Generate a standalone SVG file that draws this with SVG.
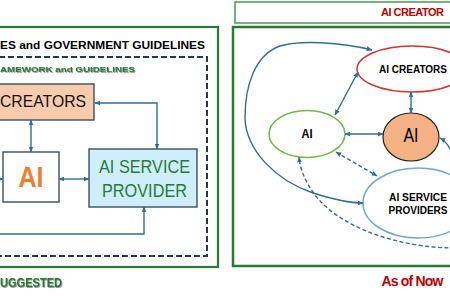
<svg xmlns="http://www.w3.org/2000/svg" width="450" height="300" viewBox="0 0 450 300">
<style>
.t{font-family:"Liberation Sans",Arial,sans-serif;}
.b{font-weight:bold;}
.con{fill:none;stroke:#2f6f94;stroke-width:1.4;}
.dash{stroke-dasharray:4 2.5;}
.box{stroke:#3c4f60;stroke-width:1.4;}
</style>
<defs>
<marker id="ah" viewBox="0 0 10 10" refX="9" refY="5" markerWidth="6" markerHeight="6" markerUnits="userSpaceOnUse" orient="auto-start-reverse">
<path d="M0,1 L10,5 L0,9 z" fill="#2f6f94"/>
</marker>
<filter id="sh" x="-30%" y="-60%" width="160%" height="220%">
<feDropShadow dx="0.8" dy="0.8" stdDeviation="0.3" flood-color="#333" flood-opacity="0.6"/>
</filter>
</defs>

<!-- LEFT PANEL -->
<g id="left-frame">
<rect x="-10" y="27" width="228" height="240" fill="none" stroke="#2a7a34" stroke-width="2.2"/>
<rect x="-10" y="57" width="217" height="199" fill="none" stroke="#1f3a4d" stroke-width="2" stroke-dasharray="6 3"/>
<text class="t b" x="0" y="49" font-size="11" textLength="205" lengthAdjust="spacingAndGlyphs" fill="#000">ES and GOVERNMENT GUIDELINES</text>
<text class="t b" x="0" y="72" font-size="8" textLength="135" lengthAdjust="spacingAndGlyphs" fill="#2a7a34" filter="url(#sh)">AMEWORK and GUIDELINES</text>
<text class="t b" x="0" y="287" font-size="12" textLength="62" lengthAdjust="spacingAndGlyphs" fill="#2a7a34" filter="url(#sh)">UGGESTED</text>
</g>

<g id="l-creators">
<rect class="box" x="-10" y="84" width="104" height="36" fill="#f8cbad"/>
<text class="t" x="0" y="107" font-size="17" textLength="86" lengthAdjust="spacingAndGlyphs" fill="#111">CREATORS</text>
</g>

<g id="l-ai">
<rect class="box" x="3" y="152" width="56" height="50" fill="#fff"/>
<text class="t b" x="31" y="187" font-size="30" text-anchor="middle" textLength="25" lengthAdjust="spacingAndGlyphs" fill="#ed7d31">AI</text>
</g>

<g id="l-provider">
<rect class="box" x="89" y="149" width="108" height="58" fill="#cdeefa"/>
<text class="t" x="144.5" y="173" font-size="19" text-anchor="middle" textLength="91" lengthAdjust="spacingAndGlyphs" fill="#2a7a34">AI SERVICE</text>
<text class="t" x="144.5" y="197" font-size="19" text-anchor="middle" textLength="85" lengthAdjust="spacingAndGlyphs" fill="#2a7a34">PROVIDER</text>
</g>

<g id="l-connectors">
<path class="con" d="M95 103 H157 V149" marker-start="url(#ah)" marker-end="url(#ah)"/>
<path class="con" d="M31 120 V152" marker-start="url(#ah)" marker-end="url(#ah)"/>
<path class="con" d="M59 179 H89" marker-start="url(#ah)" marker-end="url(#ah)"/>
<path class="con" d="M-6 179 H3" marker-end="url(#ah)"/>
<path class="con" d="M-6 234 H144 V207" marker-end="url(#ah)"/>
</g>

<!-- RIGHT PANEL -->
<g id="right-frame">
<rect x="235" y="2" width="225" height="21" fill="#fff" stroke="#4a9a50" stroke-width="1.5"/>
<text class="t b" x="381" y="16" font-size="11" letter-spacing="-0.5" fill="#c00000">AI CREATOR</text>
<rect x="233" y="27" width="230" height="239" fill="none" stroke="#2a7a34" stroke-width="2.5"/>
<text class="t b" x="412" y="286" font-size="14" letter-spacing="-0.8" text-anchor="middle" fill="#c00000">As of Now</text>
</g>

<g id="r-creators">
<ellipse cx="412" cy="69" rx="55" ry="23" fill="#fff" stroke="#d9302c" stroke-width="1.5"/>
<text class="t b" x="413" y="73" font-size="10" text-anchor="middle" textLength="68" lengthAdjust="spacingAndGlyphs" fill="#000">AI CREATORS</text>
</g>

<g id="r-ai-green">
<ellipse cx="307" cy="134" rx="38" ry="23.5" fill="#fff" stroke="#6dbb45" stroke-width="1.5"/>
<text class="t b" x="307" y="138" font-size="12" text-anchor="middle" textLength="11" lengthAdjust="spacingAndGlyphs" fill="#000">AI</text>
</g>

<g id="r-ai-orange">
<ellipse cx="411" cy="137" rx="28" ry="24" fill="#f4b183" stroke="#222" stroke-width="1.2"/>
<text class="t" x="411" y="142" font-size="21" text-anchor="middle" textLength="15" lengthAdjust="spacingAndGlyphs" fill="#000">AI</text>
</g>

<g id="r-providers">
<ellipse cx="418" cy="203" rx="55" ry="35" fill="#fff" stroke="#6fa8dc" stroke-width="1.5"/>
<text class="t b" x="418" y="201" font-size="10" text-anchor="middle" textLength="58" lengthAdjust="spacingAndGlyphs" fill="#000">AI SERVICE</text>
<text class="t b" x="418" y="214" font-size="10" text-anchor="middle" textLength="59" lengthAdjust="spacingAndGlyphs" fill="#000">PROVIDERS</text>
</g>

<g id="r-connectors">
<path class="con" d="M411 92 V113" marker-start="url(#ah)" marker-end="url(#ah)"/>
<path class="con" d="M345 134 H383" marker-start="url(#ah)" marker-end="url(#ah)"/>
<path class="con" d="M335 115 L358 72" marker-start="url(#ah)" marker-end="url(#ah)"/>
<path class="con" d="M372 50 C340 42,300 40,280 46 C255 55,245 85,245 118 C246 150,275 180,313 193 C335 200,350 203,363 203" marker-start="url(#ah)" marker-end="url(#ah)"/>
<path class="con dash" d="M336 152 L377 176" marker-start="url(#ah)" marker-end="url(#ah)"/>
<path class="con dash" d="M455 248 C400 248,340 228,315 195 C304 180,300 168,299 157" marker-end="url(#ah)"/>
<path class="con" d="M455 162 C452 150,447 142,440 138" marker-end="url(#ah)"/>
</g>
</svg>
